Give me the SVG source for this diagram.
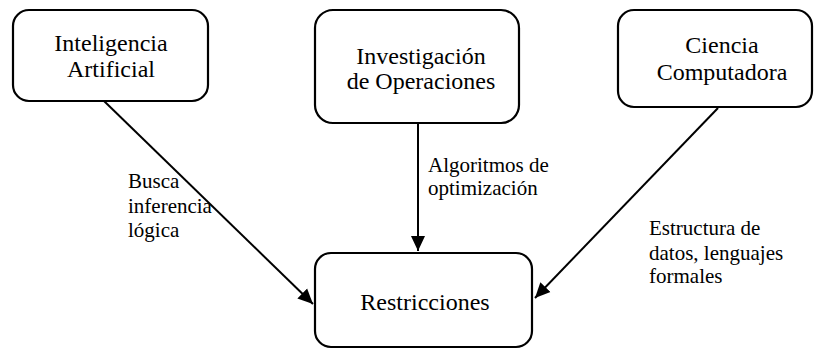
<svg xmlns="http://www.w3.org/2000/svg" width="814" height="349" viewBox="0 0 814 349">
<style>
.box{fill:#fff;stroke:#000;stroke-width:2.2}
text{font-family:'Liberation Serif','Times New Roman',serif;fill:#000}
.nt{font-size:24px;text-anchor:middle}
.lt{font-size:21px}
.con{stroke:#000;stroke-width:2;fill:none}
</style>
<defs>
<marker id="ah" markerUnits="userSpaceOnUse" markerWidth="16" markerHeight="16" viewBox="0 0 16 16" refX="15" refY="8" orient="auto">
<path d="M0,1 L15,8 L0,15 Z" fill="#000"/>
</marker>
</defs>
<rect width="814" height="349" fill="#fff"/>
<g id="connectors">
<line class="con" x1="104" y1="101" x2="313" y2="304" marker-end="url(#ah)"/>
<line class="con" x1="418" y1="123" x2="418" y2="251" stroke-width="1.6" marker-end="url(#ah)"/>
<line class="con" x1="718" y1="108" x2="535" y2="298" marker-end="url(#ah)"/>
</g>
<g id="n1">
<rect class="box" x="13" y="10" width="195" height="91" rx="16"/>
<text class="nt" x="111" y="51">Inteligencia</text>
<text class="nt" x="111" y="77">Artificial</text>
</g>
<g id="n2">
<rect class="box" x="315" y="10" width="204" height="113" rx="18"/>
<text class="nt" x="421" y="64">Investigación</text>
<text class="nt" x="421" y="89">de Operaciones</text>
</g>
<g id="n3">
<rect class="box" x="618" y="10" width="194" height="97" rx="16"/>
<text class="nt" x="722" y="53">Ciencia</text>
<text class="nt" x="722" y="80">Computadora</text>
</g>
<g id="n4">
<rect class="box" x="315" y="253" width="217" height="94" rx="16"/>
<text class="nt" x="425" y="310">Restricciones</text>
</g>
<g id="labels">
<text class="lt" x="128" y="188">Busca</text>
<text class="lt" x="128" y="213">inferencia</text>
<text class="lt" x="128" y="237">lógica</text>
<text class="lt" x="428" y="172">Algoritmos de</text>
<text class="lt" x="428" y="195">optimización</text>
<text class="lt" x="649" y="235">Estructura de</text>
<text class="lt" x="649" y="260">datos, lenguajes</text>
<text class="lt" x="649" y="283">formales</text>
</g>
</svg>
